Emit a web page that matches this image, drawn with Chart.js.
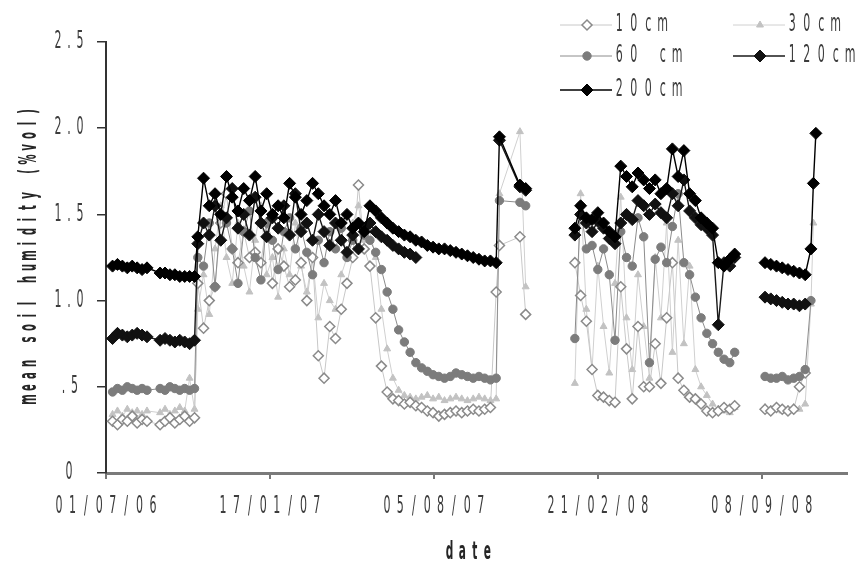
<!DOCTYPE html>
<html>
<head>
<meta charset="utf-8">
<script src="https://cdn.jsdelivr.net/npm/chart.js@4.4.1/dist/chart.umd.min.js"></script>
<style>
  html, body { margin: 0; padding: 0; background: #fff; }
  #chart { display: block; }
</style>
</head>
<body>
<canvas id="chart" width="859" height="565"></canvas>
<script>
// Days counted from 01/07/06; null rows break the lines between measuring campaigns
const days = [
    8, 14, 20, 26, 32, 38, 44, 50, 66, 72, 78, 84, 90, 96, 102, 108,
    112, 119, 126, 133, 140, 147, 154, 161, 168, 175, 182, 189, 196, 203, 210, 217, 224, 231, 238, 245,
    252, 259, 266, 273, 280, 287, 294, 301, 308, 315, 322, 329, 336, 343, 350, 357, 364, 371, 378, 385,
    392, 399, 406, 413, 420, 427, 434, 441, 448, 455, 462, 469, 476, 480, 505, 512,
    540,
    572, 579, 586, 593, 600, 607, 614, 621, 628, 635, 642, 649, 656, 663, 670, 677, 684, 691, 698, 705,
    712, 719, 726, 733, 740, 747, 754, 761, 767,
    785,
    804, 811, 818, 825, 832, 839, 846, 853, 860, 863, 866
];

const cm10 = [
    0.30, 0.28, 0.31, 0.30, 0.33, 0.29, 0.31, 0.30, 0.28, 0.30, 0.32, 0.29, 0.31, 0.33, 0.30, 0.32,
    1.10, 0.84, 1.00, 1.08, 1.45, 1.62, 1.30, 1.22, 1.40, 1.25, 1.28, 1.22, 1.45, 1.10, 1.30, 1.20, 1.08, 1.12, 1.22, 1.00,
    1.25, 0.68, 0.55, 0.85, 0.78, 0.95, 1.10, 1.25, 1.67, 1.30, 1.20, 0.90, 0.62, 0.47, 0.43, 0.42, 0.40, 0.41, 0.39, 0.38,
    0.36, 0.35, 0.33, 0.34, 0.35, 0.36, 0.35, 0.36, 0.37, 0.36, 0.37, 0.38, 1.05, 1.32, 1.37, 0.92,
    null,
    1.22, 1.03, 0.88, 0.60, 0.45, 0.44, 0.42, 0.41, 1.08, 0.72, 0.43, 0.85, 0.50, 0.50, 0.75, 0.52, 0.90, 1.22, 0.55, 0.48,
    0.44, 0.43, 0.40, 0.36, 0.35, 0.36, 0.38, 0.37, 0.39,
    null,
    0.37, 0.36, 0.38, 0.37, 0.36, 0.37, 0.50, 0.58, null, null, null
];

const cm30 = [
    0.34, 0.36, 0.33, 0.37, 0.35, 0.36, 0.34, 0.36, 0.35, 0.37, 0.34, 0.36, 0.38, 0.36, 0.55, 0.37,
    0.95, 1.15, 0.92, 1.30, 1.55, 1.25, 1.10, 1.45, 1.20, 1.05, 1.35, 1.55, 1.15, 1.25, 1.02, 1.30, 1.15, 1.45, 1.20, 1.05,
    1.25, 0.90, 1.10, 1.00, 0.95, 1.15, 1.25, 1.45, 1.55, 1.35, 1.40, 1.25, 0.95, 0.72, 0.55, 0.48, 0.45, 0.44, 0.43, 0.44,
    0.45, 0.43, 0.44, 0.42, 0.43, 0.44, 0.43, 0.42, 0.43, 0.44, 0.43, 0.42, 0.43, 1.62, 1.98, 1.08,
    null,
    0.52, 1.62, 0.95, 0.60, 1.20, 0.85, 0.58, 1.10, 1.60, 0.90, 0.60, 1.15, 0.85, 0.55, 1.25, 0.90, 1.45, 0.70, 1.35, 0.75,
    1.20, 0.60, 0.50, 0.45, 0.40, 0.37, 0.36, 0.35, 0.38,
    null,
    0.38, 0.37, 0.38, 0.36, 0.37, 0.38, 0.37, 0.40, 0.98, 1.45, null
];

const cm60 = [
    0.47, 0.49, 0.48, 0.50, 0.49, 0.48, 0.49, 0.48, 0.49, 0.48, 0.50, 0.49, 0.48, 0.49, 0.48, 0.49,
    1.25, 1.20, 1.45, 1.08, 1.50, 1.45, 1.30, 1.10, 1.40, 1.52, 1.25, 1.12, 1.45, 1.35, 1.18, 1.40, 1.48, 1.30, 1.42, 1.28,
    1.15, 1.35, 1.22, 1.40, 1.30, 1.42, 1.25, 1.35, 1.45, 1.38, 1.35, 1.28, 1.18, 1.05, 0.95, 0.83, 0.76, 0.70, 0.64, 0.61,
    0.59, 0.57, 0.56, 0.55, 0.56, 0.58, 0.57, 0.56, 0.55, 0.56, 0.55, 0.54, 0.55, 1.58, 1.57, 1.55,
    null,
    0.78, 1.55, 1.30, 1.32, 1.18, 1.30, 1.15, 0.77, 1.40, 1.25, 1.20, 1.48, 1.37, 0.64, 1.24, 1.31, 1.22, 1.43, 1.62, 1.22,
    1.15, 1.02, 0.90, 0.81, 0.75, 0.70, 0.66, 0.64, 0.70,
    null,
    0.56, 0.55, 0.55, 0.56, 0.54, 0.55, 0.56, 0.60, 1.00, null, null
];

const cm120 = [
    0.78, 0.81, 0.80, 0.79, 0.80, 0.81, 0.80, 0.79, 0.77, 0.78, 0.77, 0.76, 0.77, 0.76, 0.75, 0.77,
    1.33, 1.45, 1.38, 1.55, 1.35, 1.48, 1.65, 1.42, 1.50, 1.38, 1.60, 1.45, 1.37, 1.48, 1.42, 1.55, 1.38, 1.62, 1.40, 1.45,
    1.35, 1.50, 1.40, 1.32, 1.45, 1.35, 1.28, 1.38, 1.30, 1.42, 1.45, 1.40, 1.37, 1.35, 1.32, 1.30, 1.28, 1.27, 1.25, null,
    null, null, null, null, null, null, null, null, null, null, null, null, null, 1.93, 1.66, 1.64,
    null,
    1.38, 1.50, 1.45, 1.40, 1.46, 1.42, 1.36, 1.33, 1.45, 1.50, 1.47, 1.58, 1.55, 1.50, 1.56, 1.51, 1.48, 1.62, 1.55, 1.70,
    1.52, 1.48, 1.44, 1.42, 1.38, 0.86, 1.22, 1.20, 1.25,
    null,
    1.02, 1.01, 1.00, 0.99, 0.98, 0.98, 0.97, 0.98, null, null, null
];

const cm200 = [
    1.20, 1.21, 1.20, 1.19, 1.20, 1.19, 1.18, 1.19, 1.16, 1.16, 1.15, 1.15, 1.14, 1.14, 1.14, 1.14,
    1.37, 1.71, 1.55, 1.62, 1.50, 1.72, 1.60, 1.52, 1.65, 1.58, 1.72, 1.52, 1.62, 1.50, 1.55, 1.48, 1.68, 1.60, 1.50, 1.58,
    1.68, 1.62, 1.55, 1.50, 1.58, 1.45, 1.50, 1.42, 1.45, 1.40, 1.55, 1.52, 1.48, 1.45, 1.42, 1.40, 1.38, 1.37, 1.35, 1.34,
    1.32, 1.31, 1.30, 1.30, 1.29, 1.28, 1.27, 1.26, 1.25, 1.24, 1.23, 1.23, 1.22, 1.95, 1.67, 1.65,
    null,
    1.42, 1.55, 1.48, 1.47, 1.51, 1.45, 1.40, 1.37, 1.78, 1.72, 1.66, 1.74, 1.70, 1.65, 1.70, 1.62, 1.65, 1.88, 1.72, 1.87,
    1.62, 1.58, 1.48, 1.45, 1.42, 1.22, 1.20, 1.24, 1.27,
    null,
    1.22, 1.21, 1.20, 1.19, 1.18, 1.17, 1.16, 1.15, 1.30, 1.68, 1.97
];

const seriesLabels = ['10cm', '30cm', '60 cm', '120cm', '200cm'];
const xTickDays = [0, 200, 400, 600, 800];
const xTickLabels = ['01/07/06', '17/01/07', '05/08/07', '21/02/08', '08/09/08'];
const yTickValues = [0, 0.5, 1.0, 1.5, 2.0, 2.5];
const yTickLabels = ['0', '.5', '1.0', '1.5', '2.0', '2.5'];
const xTitle = 'date';
const yTitle = 'mean soil humidity (%vol)';

// the scan uses a tall, narrow, widely spaced face: squeeze each glyph into a fixed pitch
const LABEL_FONT = '24px "DejaVu Sans"';
const TITLE_FONT = 'bold 24px "DejaVu Sans"';
const TEXT = '#3c3c3c';

function drawSpaced(ctx, text, x, y, pitch, align, rotate, font, squeeze) {
    const total = pitch * text.length;
    const start = align === 'center' ? -total / 2 : (align === 'right' ? -total : 0);
    ctx.save();
    ctx.translate(x, y);
    if (rotate) ctx.rotate(-Math.PI / 2);
    ctx.font = font;
    ctx.textAlign = 'center';
    ctx.textBaseline = 'middle';
    for (let i = 0; i < text.length; i++) {
        if (text[i] === ' ') continue;
        ctx.save();
        ctx.translate(start + pitch * (i + 0.5), 0);
        ctx.scale(squeeze, 1);
        ctx.fillText(text[i], 0, 0);
        ctx.restore();
    }
    ctx.restore();
}

const styles = [
    { line: '#c8c8c8', fill: '#ffffff', edge: '#8a8a8a', shape: 'rectRot', r: 5, bw: 1.5, order: 3 },
    { line: '#d0d0d0', fill: '#c2c2c2', edge: '#c2c2c2', shape: 'triangle', r: 4, bw: 1, order: 4 },
    { line: '#8c8c8c', fill: '#7c7c7c', edge: '#7c7c7c', shape: 'circle', r: 4.2, bw: 1, order: 2 },
    { line: '#1a1a1a', fill: '#111111', edge: '#111111', shape: 'rectRot', r: 6, bw: 1, order: 1 },
    { line: '#000000', fill: '#000000', edge: '#000000', shape: 'rectRot', r: 6, bw: 1, order: 0 }
];
const values = [cm10, cm30, cm60, cm120, cm200];

const datasets = values.map((vals, i) => ({
    label: seriesLabels[i],
    data: days.map((d, j) => ({ x: d, y: vals[j] })),
    borderColor: styles[i].line,
    borderWidth: i >= 3 ? 1.4 : 1,
    pointStyle: styles[i].shape,
    pointRadius: styles[i].r,
    pointBackgroundColor: styles[i].fill,
    pointBorderColor: styles[i].edge,
    pointBorderWidth: styles[i].bw,
    tension: 0,
    spanGaps: false,
    order: styles[i].order
}));

// legend slots: left end of sample line, vertical middle of the row
const legendSlots = [
    { x: 560, y: 25 }, { x: 733, y: 25 },
    { x: 560, y: 56 }, { x: 733, y: 56 },
    { x: 560, y: 90 }
];

// tick labels, titles and legend all drawn with the squeezed face
const textPlugin = {
    id: 'axisText',
    afterDraw(chart) {
        const c = chart.ctx;
        const xs = chart.scales.x, ys = chart.scales.y, area = chart.chartArea;
        c.save();
        c.fillStyle = TEXT;
        xs.ticks.forEach((t, i) => {
            drawSpaced(c, xTickLabels[i], xs.getPixelForValue(t.value), area.bottom + 34, 13.4, 'center', false, LABEL_FONT, 0.46);
        });
        ys.ticks.forEach((t, i) => {
            drawSpaced(c, yTickLabels[i], area.left - 37, ys.getPixelForValue(t.value), 11, 'center', false, LABEL_FONT, 0.46);
        });
        c.fillStyle = '#262626';
        drawSpaced(c, xTitle, (area.left + area.right) / 2 - 8, 553, 12.6, 'center', false, TITLE_FONT, 0.44);
        drawSpaced(c, yTitle, 30, (area.top + area.bottom) / 2 - 2, 12, 'center', true, TITLE_FONT, 0.42);

        chart.data.datasets.forEach((ds, i) => {
            const s = legendSlots[i];
            c.strokeStyle = ds.borderColor;
            c.lineWidth = ds.borderWidth;
            c.beginPath();
            c.moveTo(s.x, s.y);
            c.lineTo(s.x + 52, s.y);
            c.stroke();
            c.fillStyle = ds.pointBackgroundColor;
            c.strokeStyle = ds.pointBorderColor;
            c.lineWidth = ds.pointBorderWidth;
            Chart.helpers.drawPoint(c, { pointStyle: ds.pointStyle, radius: ds.pointRadius, borderWidth: ds.pointBorderWidth, rotation: 0 }, s.x + 27, s.y);
            c.fillStyle = TEXT;
            drawSpaced(c, ds.label, s.x + 52, s.y, 14.5, 'left', false, LABEL_FONT, 0.46);
        });
        c.restore();
    }
};

new Chart(document.getElementById('chart').getContext('2d'), {
    type: 'line',
    data: { datasets: datasets },
    options: {
        responsive: false,
        animation: false,
        layout: { padding: { top: 42, right: 12, left: 0, bottom: 0 } },
        plugins: { legend: { display: false }, tooltip: { enabled: false } },
        scales: {
            x: {
                type: 'linear',
                min: 0,
                max: 904,
                afterBuildTicks: scale => { scale.ticks = xTickDays.map(v => ({ value: v })); },
                afterFit: scale => { scale.height = 92; },
                ticks: { display: false },
                grid: { drawOnChartArea: false, tickLength: 6, color: '#777', lineWidth: 2 },
                border: { color: '#7a7a7a', width: 3 }
            },
            y: {
                min: 0,
                max: 2.5,
                afterBuildTicks: scale => { scale.ticks = yTickValues.map(v => ({ value: v })); },
                afterFit: scale => { scale.width = 106; },
                ticks: { display: false },
                grid: { drawOnChartArea: false, tickLength: 9, color: '#333', lineWidth: 1.5 },
                border: { color: '#333', width: 2 }
            }
        }
    },
    plugins: [textPlugin]
});
</script>
</body>
</html>
